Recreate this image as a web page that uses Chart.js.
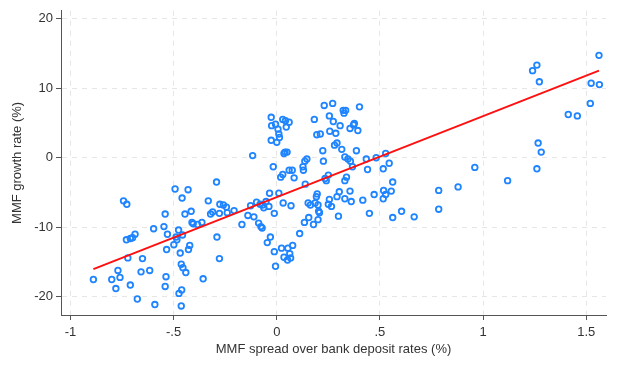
<!DOCTYPE html>
<html>
<head>
<meta charset="utf-8">
<script src="https://cdn.jsdelivr.net/npm/chart.js@4"></script>
<style>
  html, body { margin: 0; padding: 0; background: #fff; }
  #wrap { width: 620px; height: 368px; position: relative; }
</style>
</head>
<body>
<div id="wrap"><canvas id="scatterChart"></canvas></div>
<script>
// MMF spread over bank deposit rates (%) vs MMF growth rate (%)
const spreadX = [
  -0.889, -0.80, -0.77, -0.76, -0.78, -0.743, -0.727, -0.729, -0.71, -0.699,
  -0.687, -0.722, -0.71, -0.676, -0.658, -0.651, -0.616, -0.597, -0.591, -0.547,
  -0.541, -0.53, -0.534, -0.537, -0.541, -0.493, -0.499, -0.488, -0.484, -0.476,
  -0.474, -0.468, -0.463, -0.461, -0.459, -0.457, -0.463, -0.455, -0.445, -0.441,
  -0.430, -0.428, -0.422, -0.415, -0.411, -0.405, -0.384, -0.363, -0.357, -0.332,
  -0.321, -0.311, -0.292, -0.290, -0.278, -0.278, -0.276, -0.259, -0.244, -0.240,
  -0.207, -0.169, -0.140, -0.127, -0.117, -0.111, -0.098, -0.088, -0.081, -0.077,
  -0.071, -0.069, -0.063, -0.052, -0.046, -0.038, -0.035, -0.031, -0.027, -0.027,
  -0.025, -0.017, -0.012, -0.012, -0.006, -0.006, 0.000, 0.006, 0.010, 0.010,
  0.013, 0.019, 0.023, 0.029, 0.029, 0.031, 0.035, 0.035, 0.040, 0.042,
  0.046, 0.050, 0.052, 0.054, 0.060, 0.060, 0.063, 0.067, 0.069, 0.075,
  0.077, 0.084, 0.111, 0.127, 0.129, 0.134, 0.136, 0.138, 0.146, 0.152,
  0.155, 0.163, 0.178, 0.182, 0.186, 0.192, 0.194, 0.196, 0.200, 0.200,
  0.203, 0.207, 0.211, 0.223, 0.226, 0.230, 0.234, 0.240, 0.250, 0.250,
  0.255, 0.255, 0.257, 0.265, 0.271, 0.274, 0.280, 0.286, 0.292, 0.292,
  0.299, 0.303, 0.307, 0.315, 0.322, 0.326, 0.330, 0.330, 0.330, 0.334,
  0.338, 0.345, 0.355, 0.355, 0.357, 0.361, 0.367, 0.372, 0.376, 0.386,
  0.393, 0.401, 0.417, 0.434, 0.440, 0.449, 0.472, 0.482, 0.516, 0.516,
  0.518, 0.528, 0.528, 0.545, 0.555, 0.562, 0.562, 0.605, 0.666, 0.785,
  0.785, 0.879, 0.960, 1.119, 1.240, 1.261, 1.273, 1.261, 1.267, 1.282,
  1.413, 1.457, 1.520, 1.524, 1.564, 1.562
];
const growthY = [
  -17.5, -17.5, -16.2, -17.2, -18.8, -6.2, -6.7, -11.8, -11.6, -11.5,
  -11.0, -14.4, -18.3, -20.3, -16.4, -14.5, -16.2, -10.2, -21.1, -9.9,
  -8.1, -11.0, -13.2, -17.1, -18.5, -4.5, -12.5, -11.4, -11.8, -10.4,
  -19.5, -13.7, -15.3, -19.0, -5.8, -11.1, -21.3, -15.8, -8.1, -16.5,
  -4.6, -13.2, -12.6, -7.7, -9.3, -9.5, -9.6, -9.3, -17.4, -6.2,
  -8.1, -7.8, -3.5, -11.4, -8.0, -14.5, -6.7, -6.8, -7.1, -7.9,
  -7.6, -9.6, -8.3, -6.9, 0.3, -8.5, -6.4, -9.4, -6.7, -9.9,
  -10.1, -6.8, -7.2, -6.3, -12.2, -7.0, -5.1, -11.4, 5.8, 2.5,
  4.6, -1.3, -13.5, -8.0, -15.6, 4.8, 2.2, 4.1, -5.1, 3.4,
  2.9, -2.8, -13.0, -2.4, 5.5, -6.5, 0.6, -14.3, 0.8, 5.3,
  4.4, 0.8, -14.7, -13.0, -1.8, 5.1, -13.8, -14.4, -6.9, -1.8,
  -12.6, -2.9, -10.9, -1.3, -1.8, -9.3, -0.5, -3.8, -0.2, -6.5,
  -8.6, -6.8, -9.6, 5.5, -6.5, -5.6, 3.3, -5.2, -8.9, -6.8,
  -7.7, -7.9, 3.4, 1.0, -0.5, 7.5, -3.0, -3.3, -2.5, -6.7,
  -6.0, 6.0, 3.8, -7.0, 7.8, 5.2, 1.8, 3.5, 2.1, -5.6,
  -8.4, -4.9, 4.6, 1.2, 6.8, 6.4, 0.1, -5.9, -3.3, 6.8,
  -2.8, -0.2, 4.2, -4.8, -0.5, -6.3, -1.3, 4.7, 4.9, 1.0,
  3.9, 7.3, -6.1, -0.2, -1.7, -8.0, -5.3, 0.0, -1.6, -5.9,
  -4.7, -5.3, 0.6, -0.8, -4.8, -3.5, -8.6, -7.7, -8.5, -4.7,
  -7.4, -4.2, -1.4, -3.3, 12.5, 13.3, 10.9, -1.6, 2.1, 0.8,
  6.2, 6.0, 7.8, 10.7, 10.5, 14.7
];

// fitted line endpoints
const fitX = [-0.889, 1.562];
const fitY = [-16.0, 12.5];

const xTicks = [-1, -0.5, 0, 0.5, 1, 1.5];
const xTickLabels = ["-1", "-.5", "0", ".5", "1", "1.5"];
const yTicks = [-20, -10, 0, 10, 20];

const axisFont = { family: "'Liberation Sans', Arial, sans-serif", size: 13 };
const textColor = "#333333";

const points = spreadX.map((x, i) => ({ x: x, y: growthY[i] }));
const fitPoints = fitX.map((x, i) => ({ x: x, y: fitY[i] }));

const ctx = document.getElementById("scatterChart").getContext("2d");
new Chart(ctx, {
  type: "scatter",
  data: {
    datasets: [
      {
        label: "MMF growth",
        data: points,
        pointStyle: "circle",
        pointRadius: 2.8,
        pointBorderWidth: 1.8,
        pointBorderColor: "#1f84ff",
        pointBackgroundColor: "rgba(0,0,0,0)",
        showLine: false,
        order: 2
      },
      {
        label: "Fit",
        data: fitPoints,
        showLine: true,
        borderColor: "#ff1010",
        borderWidth: 2,
        pointRadius: 0,
        fill: false,
        order: 1
      }
    ]
  },
  options: {
    responsive: true,
    maintainAspectRatio: false,
    animation: false,
    layout: { padding: { top: 8, right: 14, left: 0, bottom: 0 } },
    plugins: {
      legend: { display: false },
      tooltip: { enabled: false }
    },
    scales: {
      x: {
        type: "linear",
        min: -1.046,
        max: 1.596,
        afterBuildTicks: scale => { scale.ticks = xTicks.map(v => ({ value: v })); },
        afterFit: scale => { scale.height = 53; },
        ticks: {
          color: textColor,
          font: axisFont,
          padding: 5,
          maxRotation: 0,
          callback: (v) => {
            const idx = xTicks.indexOf(v);
            return idx >= 0 ? xTickLabels[idx] : "";
          }
        },
        grid: {
          color: "#e6e6e6",
          tickColor: "#555555",
          tickLength: 5,
          tickBorderDash: []
        },
        border: { color: "#555555", width: 1, dash: [5, 5] },
        title: {
          display: true,
          text: "MMF spread over bank deposit rates (%)",
          color: textColor,
          font: axisFont,
          padding: { top: 0, bottom: 11 }
        }
      },
      y: {
        type: "linear",
        min: -22.6,
        max: 21.1,
        afterBuildTicks: scale => { scale.ticks = yTicks.map(v => ({ value: v })); },
        afterFit: scale => { scale.width = 61; },
        ticks: {
          color: textColor,
          font: axisFont,
          padding: 3
        },
        grid: {
          color: "#e6e6e6",
          tickColor: "#555555",
          tickLength: 5,
          tickBorderDash: []
        },
        border: { color: "#555555", width: 1, dash: [5, 5] },
        title: {
          display: true,
          text: "MMF growth rate (%)",
          color: textColor,
          font: axisFont,
          padding: { top: 10, bottom: 0 }
        }
      }
    }
  }
});
</script>
</body>
</html>
